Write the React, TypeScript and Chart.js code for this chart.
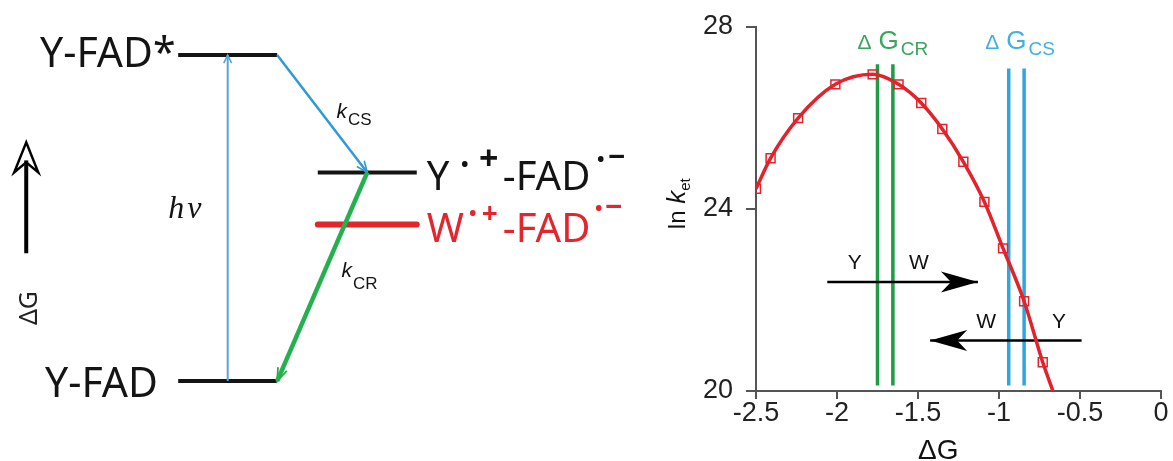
import React, { useEffect, useRef } from 'react';
import { Chart, registerables } from 'chart.js';

Chart.register(...registerables);

// ---------------- Left panel: energy-level scheme ----------------
const LEVEL_NAMES = ['Y-FAD', 'Y-FAD*', 'Y•+-FAD•−', 'W•+-FAD•−'];
const LEVEL_ENERGY = [0, 2.5, 1.6, 1.2];
const LEVEL_COLUMN = [0, 0, 1, 1];
const LEVEL_COLOR = ['#141414', '#141414', '#141414', '#e3262e'];

const STEP_NAMES = ['hν', 'kCS', 'kCR'];
const STEP_FROM = [0, 1, 2];
const STEP_TO = [1, 2, 0];
const STEP_COLOR = ['#5aa3d8', '#2f9ad6', '#25b04e'];

// ---------------- Right panel: ln k_et vs ΔG ----------------
const DELTA_G = [-2.5, -2.41, -2.24, -2.01, -1.78, -1.62, -1.48, -1.35, -1.22, -1.09, -0.975, -0.845, -0.73];
const LN_KET = [24.44, 25.11, 25.99, 26.73, 26.95, 26.73, 26.32, 25.75, 25.03, 24.15, 23.13, 21.97, 20.63];
const FIT_END_DG = -0.667;
const FIT_END_LNK = 20;

const CR_DG = [-1.75, -1.655];
const CS_DG = [-0.94, -0.845];
const CR_RANGE = [20.12, 27.17];
const CS_RANGE = [20.12, 27.08];

const ARROW_FROM_DG = [-2.06, -0.49];
const ARROW_TO_DG = [-1.13, -1.425];
const ARROW_LNK = [22.39, 21.11];
const ARROW_LABELS = [['Y', 'W'], ['W', 'Y']];
const ARROW_LABEL_DG = [[-1.89, -1.494], [-1.08, -0.63]];
const ARROW_LABEL_LNK = [22.81, 21.51];

const X_TICKS = [-2.5, -2, -1.5, -1, -0.5, 0];
const X_TICK_LABELS = ['-2.5', '-2', '-1.5', '-1', '-0.5', '0'];
const Y_TICKS = [20, 24, 28];
const Y_TICK_LABELS = ['20', '24', '28'];

const NOTO = '"Noto Sans", "DejaVu Sans", sans-serif';
const ARIAL = '"Liberation Sans", Arial, sans-serif';

type Run = { text: string; font: string; color: string; dy?: number; dx?: number };

function drawRuns(ctx: CanvasRenderingContext2D, x: number, y: number, runs: Run[]) {
  let cx = x;
  for (const r of runs) {
    ctx.font = r.font;
    ctx.fillStyle = r.color;
    cx += r.dx || 0;
    ctx.fillText(r.text, cx, y + (r.dy || 0));
    cx += ctx.measureText(r.text).width;
  }
  return cx;
}

function measureRuns(ctx: CanvasRenderingContext2D, runs: Run[]) {
  let w = 0;
  for (const r of runs) {
    ctx.font = r.font;
    w += (r.dx || 0) + ctx.measureText(r.text).width;
  }
  return w;
}

function strokeLine(ctx: CanvasRenderingContext2D, x1: number, y1: number, x2: number, y2: number, color: string, width: number) {
  ctx.beginPath();
  ctx.strokeStyle = color;
  ctx.lineWidth = width;
  ctx.lineCap = 'butt';
  ctx.moveTo(x1, y1);
  ctx.lineTo(x2, y2);
  ctx.stroke();
}

function openHead(ctx: CanvasRenderingContext2D, x1: number, y1: number, x2: number, y2: number, len: number, spread: number, color: string, width: number) {
  const a = Math.atan2(y2 - y1, x2 - x1);
  ctx.beginPath();
  ctx.strokeStyle = color;
  ctx.lineWidth = width;
  ctx.lineJoin = 'miter';
  ctx.moveTo(x2 - len * Math.cos(a - spread), y2 - len * Math.sin(a - spread));
  ctx.lineTo(x2, y2);
  ctx.lineTo(x2 - len * Math.cos(a + spread), y2 - len * Math.sin(a + spread));
  ctx.stroke();
}

// superscript pieces: [text, font, x offset of centre, y offset of centre from baseline]
type Sup = [string, string, number, number];

function drawRadical(ctx: CanvasRenderingContext2D, x: number, base: number, color: string, first: string, sups: Sup[], fadX: number) {
  ctx.fillStyle = color;
  ctx.textAlign = 'left';
  ctx.textBaseline = 'alphabetic';
  ctx.font = `40px ${NOTO}`;
  ctx.fillText(first, x, base);
  ctx.fillText('-FAD', x + fadX, base);
  ctx.textAlign = 'center';
  ctx.textBaseline = 'middle';
  for (const [t, f, dx, dy] of sups) {
    ctx.font = f;
    ctx.fillText(t, x + dx, base + dy);
  }
  ctx.textAlign = 'left';
  ctx.textBaseline = 'alphabetic';
}

const COL_GAP = 1.41;
const colStart = (c: number) => c * COL_GAP;

const schemePlugin = {
  id: 'scheme',
  afterDatasetsDraw(chart: any) {
    const ctx: CanvasRenderingContext2D = chart.ctx;
    const X = (v: number) => chart.scales.x.getPixelForValue(v);
    const Y = (v: number) => chart.scales.y.getPixelForValue(v);
    ctx.save();
    ctx.textBaseline = 'alphabetic';

    // transitions
    const endPoint = (lvl: number, step: number) => {
      const c = LEVEL_COLUMN[lvl];
      if (step === 0) return [X(colStart(c) + 0.5), Y(LEVEL_ENERGY[lvl])];
      if (c === 0) return [X(colStart(c) + 1), Y(LEVEL_ENERGY[lvl])];
      return [X(colStart(c) + 0.5), Y(LEVEL_ENERGY[lvl])];
    };
    const widths = [2, 2.5, 4.5];
    const heads = [[9, 0.45, 1.6], [12, 0.4, 1.6], [14, 0.35, 1.8]];
    for (let s = 0; s < STEP_NAMES.length; s++) {
      const [x1, y1] = endPoint(STEP_FROM[s], s);
      const [x2, y2] = endPoint(STEP_TO[s], s);
      strokeLine(ctx, x1, y1, x2, y2, STEP_COLOR[s], widths[s]);
      openHead(ctx, x1, y1, x2, y2, heads[s][0], heads[s][1], STEP_COLOR[s], heads[s][2]);
    }

    // level labels on the left column
    ctx.fillStyle = '#141414';
    ctx.font = `41px ${NOTO}`;
    ctx.textAlign = 'left';
    ctx.fillText(LEVEL_NAMES[1], 40, Y(LEVEL_ENERGY[1]) + 12);
    ctx.fillText(LEVEL_NAMES[0], 45, Y(LEVEL_ENERGY[0]) + 16);

    // radical-pair labels
    const lx = X(colStart(1) + 1) + 10;
    drawRadical(ctx, lx, Y(LEVEL_ENERGY[2]) + 18, LEVEL_COLOR[2], 'Y', [
      ['•', `bold 20px ${NOTO}`, 38, -25],
      ['+', `bold 34px ${NOTO}`, 62, -30],
      ['•', `bold 20px ${NOTO}`, 174, -30],
      ['−', `bold 30px ${NOTO}`, 190, -32],
    ], 76);
    drawRadical(ctx, lx, Y(LEVEL_ENERGY[3]) + 17, LEVEL_COLOR[3], 'W', [
      ['•', `bold 20px ${NOTO}`, 46, -27],
      ['+', `bold 28px ${NOTO}`, 63, -27],
      ['•', `bold 20px ${NOTO}`, 172, -32],
      ['−', `bold 30px ${NOTO}`, 187, -33],
    ], 76);

    // step labels
    drawRuns(ctx, X(-0.1), Y(1.25), [
      { text: 'h', font: `italic 32px "Liberation Serif", serif`, color: '#141414' },
      { text: 'ν', font: `italic 32px "Liberation Serif", serif`, color: '#141414', dx: 3 },
    ]);
    drawRuns(ctx, X(1.6), Y(2.02), [
      { text: 'k', font: `italic 21px ${ARIAL}`, color: '#141414' },
      { text: 'CS', font: `17px ${ARIAL}`, color: '#141414', dy: 7, dx: 1 },
    ]);
    drawRuns(ctx, X(1.65), Y(0.8), [
      { text: 'k', font: `italic 21px ${ARIAL}`, color: '#141414' },
      { text: 'CR', font: `17px ${ARIAL}`, color: '#141414', dy: 12, dx: 1 },
    ]);

    // ΔG direction indicator
    const gx = X(-1.535);
    const tipY = Y(1.83);
    strokeLine(ctx, gx, Y(0.98), gx, tipY + 18, '#000', 4);
    ctx.beginPath();
    ctx.strokeStyle = '#000';
    ctx.lineWidth = 2.5;
    ctx.lineJoin = 'miter';
    ctx.moveTo(gx, tipY);
    ctx.lineTo(gx - 12, tipY + 30);
    ctx.lineTo(gx, tipY + 20);
    ctx.lineTo(gx + 12, tipY + 30);
    ctx.closePath();
    ctx.stroke();
    ctx.save();
    ctx.translate(gx + 11, Y(0.56));
    ctx.rotate(-Math.PI / 2);
    ctx.textAlign = 'center';
    ctx.font = `25px ${NOTO}`;
    ctx.fillStyle = '#222';
    ctx.fillText('ΔG', 0, 0);
    ctx.restore();

    ctx.restore();
  },
};

const markerPlugin = {
  id: 'decor',
  afterDatasetsDraw(chart: any) {
    const ctx: CanvasRenderingContext2D = chart.ctx;
    const ca = chart.chartArea;
    const X = (v: number) => chart.scales.x.getPixelForValue(v);
    const Y = (v: number) => chart.scales.y.getPixelForValue(v);
    ctx.save();

    // stealth arrow heads
    for (let i = 0; i < ARROW_TO_DG.length; i++) {
      const tx = X(ARROW_TO_DG[i]);
      const ty = Y(ARROW_LNK[i]);
      const d = Math.sign(ARROW_TO_DG[i] - ARROW_FROM_DG[i]);
      ctx.beginPath();
      ctx.fillStyle = '#000';
      ctx.moveTo(tx, ty);
      ctx.lineTo(tx - d * 37, ty - 10.5);
      ctx.lineTo(tx - d * 27, ty);
      ctx.lineTo(tx - d * 37, ty + 10.5);
      ctx.closePath();
      ctx.fill();
      // labels
      ctx.font = `21px ${ARIAL}`;
      ctx.textAlign = 'center';
      ctx.textBaseline = 'middle';
      ctx.fillStyle = '#111';
      for (let j = 0; j < ARROW_LABELS[i].length; j++) {
        ctx.fillText(ARROW_LABELS[i][j], X(ARROW_LABEL_DG[i][j]), Y(ARROW_LABEL_LNK[i]));
      }
    }

    // ΔG_CR / ΔG_CS labels
    ctx.textBaseline = 'alphabetic';
    ctx.textAlign = 'left';
    const lab = (cx: number, sub: string, color: string) => {
      const runs: Run[] = [
        { text: 'Δ', font: `21px ${ARIAL}`, color },
        { text: 'G', font: `26px ${ARIAL}`, color, dx: 7 },
        { text: sub, font: `19px ${ARIAL}`, color, dy: 6, dx: 2 },
      ];
      const w = measureRuns(ctx, runs);
      drawRuns(ctx, cx - w / 2, Y(27.5), runs);
    };
    lab(X(-1.655), 'CR', '#3aa65a');
    lab(X(-0.87), 'CS', '#3fb0e0');

    // y-axis title: ln k_et
    ctx.save();
    ctx.translate(ca.left - 71, (ca.top + ca.bottom) / 2 - 5);
    ctx.rotate(-Math.PI / 2);
    const yRuns: Run[] = [
      { text: 'ln ', font: `24px ${ARIAL}`, color: '#111' },
      { text: 'k', font: `italic 26px ${ARIAL}`, color: '#111' },
      { text: 'et', font: `15px ${ARIAL}`, color: '#111', dy: 5 },
    ];
    drawRuns(ctx, -measureRuns(ctx, yRuns) / 2, 0, yRuns);
    ctx.restore();

    // x-axis title
    ctx.font = `28px ${ARIAL}`;
    ctx.fillStyle = '#111';
    ctx.textAlign = 'center';
    ctx.fillText('ΔG', X(-1.375), 459);
    ctx.restore();
  },
};

export default function App() {
  const leftRef = useRef<HTMLCanvasElement>(null);
  const rightRef = useRef<HTMLCanvasElement>(null);

  useEffect(() => {
    const levelSets = LEVEL_NAMES.map((name, i) => ({
      label: name,
      data: [
        { x: colStart(LEVEL_COLUMN[i]), y: LEVEL_ENERGY[i] },
        { x: colStart(LEVEL_COLUMN[i]) + 1, y: LEVEL_ENERGY[i] },
      ],
      showLine: true,
      borderColor: LEVEL_COLOR[i],
      borderWidth: i === 3 ? 6 : 4,
      borderCapStyle: i === 3 ? 'round' : 'butt',
      pointRadius: 0,
    }));

    const left = new Chart(leftRef.current as HTMLCanvasElement, {
      type: 'scatter',
      data: { datasets: levelSets as any },
      options: {
        animation: false,
        responsive: true,
        maintainAspectRatio: false,
        layout: { padding: 0 },
        plugins: { legend: { display: false }, tooltip: { enabled: false } },
        scales: {
          x: { display: false, min: -1.8, max: 4.665 },
          y: { display: false, min: -0.613, max: 2.922 },
        },
      },
      plugins: [schemePlugin],
    });

    const fitData = DELTA_G.map((g, i) => ({ x: g, y: LN_KET[i] })).concat([{ x: FIT_END_DG, y: FIT_END_LNK }]);
    const points = DELTA_G.map((g, i) => ({ x: g, y: LN_KET[i] }));

    const right = new Chart(rightRef.current as HTMLCanvasElement, {
      type: 'scatter',
      data: {
        datasets: [
          {
            label: 'points',
            data: points,
            pointStyle: 'rect',
            pointRadius: 6.3,
            pointBorderWidth: 1.5,
            borderColor: '#e2232b',
            backgroundColor: 'rgba(255,255,255,0)',
            showLine: false,
          },
          {
            label: 'fit',
            data: fitData,
            showLine: true,
            borderColor: '#e2232b',
            borderWidth: 3.5,
            pointRadius: 0,
            cubicInterpolationMode: 'monotone',
          },
          ...ARROW_FROM_DG.map((f, i) => ({
            label: 'arrow' + i,
            data: [{ x: f, y: ARROW_LNK[i] }, { x: ARROW_TO_DG[i], y: ARROW_LNK[i] }],
            showLine: true,
            borderColor: '#000',
            borderWidth: 2.5,
            pointRadius: 0,
          })),
          ...CS_DG.map((g, i) => ({
            label: 'cs' + i,
            data: [{ x: g, y: CS_RANGE[0] }, { x: g, y: CS_RANGE[1] }],
            showLine: true,
            borderColor: '#2ea6df',
            borderWidth: 3.5,
            pointRadius: 0,
          })),
          ...CR_DG.map((g, i) => ({
            label: 'cr' + i,
            data: [{ x: g, y: CR_RANGE[0] }, { x: g, y: CR_RANGE[1] }],
            showLine: true,
            borderColor: '#1f9a45',
            borderWidth: 3.5,
            pointRadius: 0,
          })),
        ] as any,
      },
      options: {
        animation: false,
        responsive: true,
        maintainAspectRatio: false,
        layout: { padding: { top: 25, right: 12, left: 0, bottom: 0 } },
        plugins: { legend: { display: false }, tooltip: { enabled: false } },
        scales: {
          x: {
            type: 'linear',
            min: -2.5,
            max: 0,
            afterBuildTicks: (s: any) => { s.ticks = X_TICKS.map((v) => ({ value: v })); },
            afterFit: (s: any) => { s.height = 70; },
            ticks: {
              callback: (v: any) => X_TICK_LABELS[X_TICKS.indexOf(Number(v))],
              font: { size: 27, family: ARIAL, lineHeight: 1 },
              color: '#222',
              padding: 1,
              maxRotation: 0,
              autoSkip: false,
            },
            grid: { drawOnChartArea: false, drawTicks: true, tickLength: 8, color: '#555', lineWidth: 2 },
            border: { display: true, color: '#555', width: 2 },
          },
          y: {
            type: 'linear',
            min: 20,
            max: 28,
            afterBuildTicks: (s: any) => { s.ticks = Y_TICKS.map((v) => ({ value: v })); },
            afterFit: (s: any) => { s.width = 116; },
            ticks: {
              callback: (v: any) => Y_TICK_LABELS[Y_TICKS.indexOf(Number(v))],
              font: { size: 27, family: ARIAL, lineHeight: 1 },
              color: '#222',
              padding: 13,
              autoSkip: false,
            },
            grid: { drawOnChartArea: false, drawTicks: true, tickLength: 10, color: '#555', lineWidth: 2 },
            border: { display: true, color: '#555', width: 2 },
          },
        },
      },
      plugins: [markerPlugin],
    });

    return () => {
      left.destroy();
      right.destroy();
    };
  }, []);

  return (
    <div style={{ position: 'fixed', left: 0, top: 0, width: 1173, height: 461, background: '#fff' }}>
      <div style={{ position: 'absolute', left: 0, top: 0, width: 640, height: 461 }}>
        <canvas ref={leftRef} />
      </div>
      <div style={{ position: 'absolute', left: 640, top: 0, width: 533, height: 461 }}>
        <canvas ref={rightRef} />
      </div>
    </div>
  );
}
